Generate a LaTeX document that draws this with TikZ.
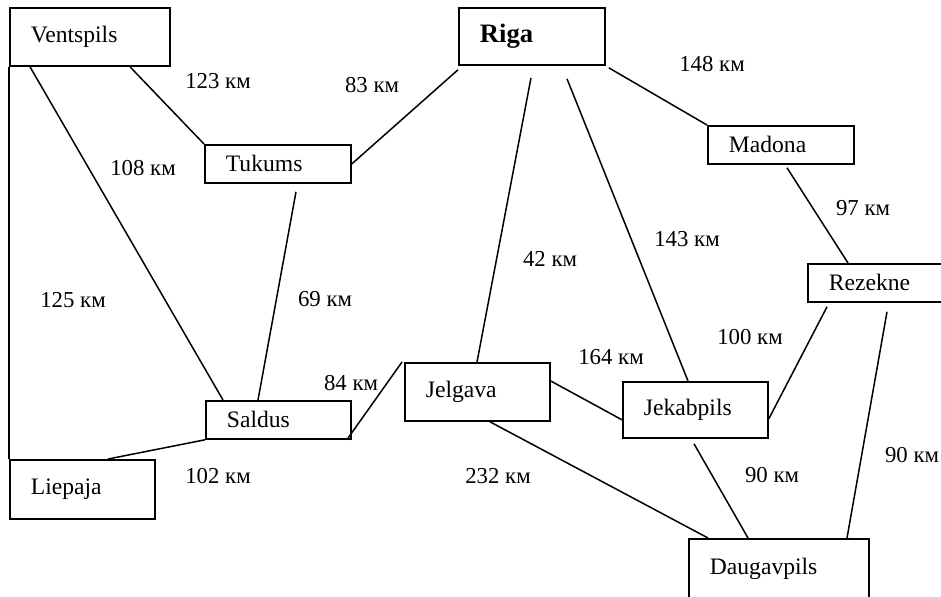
\documentclass[tikz,border=0pt]{standalone}
\usepackage{fontspec}
\setmainfont{Liberation Serif}
\usepackage{tikz}
\usetikzlibrary{positioning}

\begin{document}
\begin{tikzpicture}[x=0.5pt, y=-0.5pt,
  city/.style={draw, line width=0.9pt, anchor=north west, align=left, inner xsep=10.5pt, inner ysep=0pt, font=\fontsize{11.8}{13}\selectfont},
  dist/.style={font=\fontsize{11.4}{13}\selectfont, inner sep=0pt},
  road/.style={line width=0.75pt}]
\useasboundingbox (0,0) rectangle (941,596);
\node[city, text width=59pt, minimum height=29pt] (vent) at (9,7) {Ventspils};
\node[city, text width=52pt, minimum height=28.5pt, font=\fontsize{13.3}{15}\selectfont\bfseries] (riga) at (458,7) {Riga};
\node[city, text width=52pt, minimum height=19pt] (tuk) at (204,144) {Tukums};
\node[city, text width=52pt, minimum height=19pt] (mad) at (707,125) {Madona};
\node[city, text width=52pt, minimum height=19pt] (rez) at (807,263) {Rezekne};
\node[city, text width=51.5pt, minimum height=19pt] (sal) at (205,400) {Saldus};
\node[city, text width=51.5pt, minimum height=29.5pt] (lie) at (9,459) {Liepaja};
\node[city, text width=51.5pt, minimum height=29pt] (jel) at (404,362) {Jelgava};
\node[city, text width=51.5pt, minimum height=28pt] (jek) at (622,381) {Jekabpils};
\node[city, text width=69pt, minimum height=30pt] (dau) at (688,538) {Daugavpils};

\draw[road] (vent.south west) -- (lie.north west);
\draw[road] ([xshift=10.5pt]vent.south west) -- ([xshift=9pt]sal.north west);
\draw[road] ([xshift=60.5pt]vent.south west) -- (tuk.north west);
\draw[road] ([xshift=46pt,yshift=-4pt]tuk.south west) -- ([xshift=26.5pt]sal.north west);
\draw[road] (tuk.east) -- ([yshift=-2pt]riga.south west);
\draw[road] ([xshift=36.5pt,yshift=-6pt]riga.south west) -- ([xshift=36.5pt]jel.north west);
\draw[road] ([xshift=54.5pt,yshift=-6.5pt]riga.south west) -- ([xshift=33pt]jek.north west);
\draw[road] ([xshift=1.5pt,yshift=-1pt]riga.south east) -- (mad.north west);
\draw[road] ([xshift=40pt,yshift=-1.5pt]mad.south west) -- ([xshift=20.5pt]rez.north west);
\draw[road] ([xshift=10pt,yshift=-2pt]rez.south west) -- ([yshift=10pt]jek.south east);
\draw[road] ([xshift=40pt,yshift=-4.5pt]rez.south west) -- ([xshift=79.5pt]dau.north west);
\draw[road] ([xshift=36pt,yshift=-2.5pt]jek.south west) -- ([xshift=30pt]dau.north west);
\draw[road] ([xshift=43pt]jel.south west) -- ([xshift=10pt]dau.north west);
\draw[road] ([yshift=-9.5pt]jel.north east) -- ([yshift=9.5pt]jek.south west);
\draw[road] ([xshift=-2.5pt]sal.south east) -- ([xshift=-1pt]jel.north west);
\draw[road] (sal.south west) -- ([xshift=49.5pt]lie.north west);

\node[dist] (d123) at (218,81) {123 км};
\node[dist] (d108) at (143,168) {108 км};
\node[dist] (d83) at (372,85) {83 км};
\node[dist] (d148) at (712,64) {148 км};
\node[dist] (d97) at (863,208) {97 км};
\node[dist] (d143) at (687,239) {143 км};
\node[dist] (d42) at (550,259) {42 км};
\node[dist] (d69) at (325,299) {69 км};
\node[dist] (d125) at (73,300) {125 км};
\node[dist] (d100) at (750,337) {100 км};
\node[dist] (d164) at (611,357) {164 км};
\node[dist] (d84) at (351,383) {84 км};
\node[dist] (d102) at (218,476) {102 км};
\node[dist] (d232) at (498,476) {232 км};
\node[dist] (d90a) at (772,475) {90 км};
\node[dist] (d90b) at (912,455) {90 км};
\end{tikzpicture}
\end{document}
